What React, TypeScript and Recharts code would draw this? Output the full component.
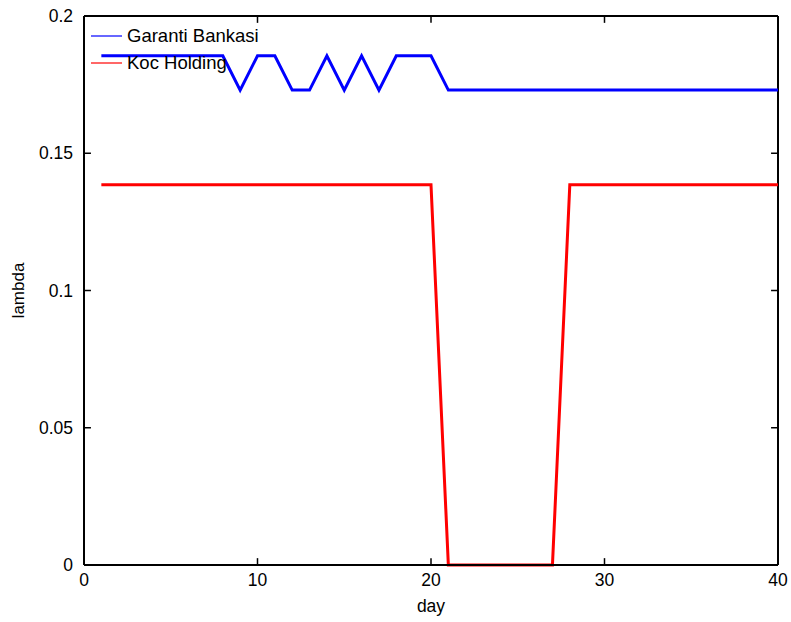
import { LineChart, Line, XAxis, YAxis, ReferenceLine } from "recharts";

const days = Array.from({ length: 40 }, (_, i) => i + 1);

const garantiBankasi = [
  0.1855, 0.1855, 0.1855, 0.1855, 0.1855, 0.1855, 0.1855, 0.1855, 0.173, 0.1855,
  0.1855, 0.173, 0.173, 0.1855, 0.173, 0.1855, 0.173, 0.1855, 0.1855, 0.1855,
  0.173, 0.173, 0.173, 0.173, 0.173, 0.173, 0.173, 0.173, 0.173, 0.173,
  0.173, 0.173, 0.173, 0.173, 0.173, 0.173, 0.173, 0.173, 0.173, 0.173,
];

const kocHolding = [
  0.1385, 0.1385, 0.1385, 0.1385, 0.1385, 0.1385, 0.1385, 0.1385, 0.1385, 0.1385,
  0.1385, 0.1385, 0.1385, 0.1385, 0.1385, 0.1385, 0.1385, 0.1385, 0.1385, 0.1385,
  0, 0, 0, 0, 0, 0, 0, 0.1385, 0.1385, 0.1385,
  0.1385, 0.1385, 0.1385, 0.1385, 0.1385, 0.1385, 0.1385, 0.1385, 0.1385, 0.1385,
];

const xTicks = [0, 10, 20, 30, 40];
const yTicks = [0, 0.05, 0.1, 0.15, 0.2];
const xMin = 0, xMax = 40, yMin = 0, yMax = 0.2;

const data = days.map((d, i) => ({ day: d, garanti: garantiBankasi[i], koc: kocHolding[i] }));

const font = "'Liberation Sans', Arial, sans-serif";
const tickStyle = { fill: "#000", fontSize: 17.5, fontFamily: font };

// inward tick length, in data units (~7px)
const xTickLen = 0.0025;
const yTickLen = 0.4;

const legendItems = [
  { label: "Garanti Bankasi", color: "#0000ff" },
  { label: "Koc Holding", color: "#ff0000" },
];

export default function App() {
  return (
    <div style={{ position: "relative", width: 791, height: 622, background: "#fff" }}>
      <style>{"body{margin:0}"}</style>
      <LineChart width={791} height={622} data={data} margin={{ top: 16, right: 13, bottom: 10, left: 24 }}>
        <XAxis
          dataKey="day"
          type="number"
          domain={[xMin, xMax]}
          ticks={xTicks}
          height={47}
          stroke="#000"
          strokeWidth={2}
          tickSize={0}
          tickLine={false}
          tickMargin={9}
          tick={tickStyle}
          label={{ value: "day", position: "insideBottom", offset: 0, style: { ...tickStyle } }}
        />
        <YAxis
          domain={[yMin, yMax]}
          ticks={yTicks}
          width={60}
          stroke="#000"
          strokeWidth={2}
          tickSize={0}
          tickLine={false}
          tickMargin={11}
          tick={tickStyle}
          label={{ value: "lambda", angle: -90, position: "insideLeft", offset: 0, dx: -6, style: { ...tickStyle, fontSize: 17, textAnchor: "middle" } }}
        />
        <ReferenceLine y={yMax} stroke="#000" strokeWidth={2} />
        <ReferenceLine x={xMax} stroke="#000" strokeWidth={2} />
        {xTicks.map((t) => (
          <ReferenceLine key={"xb" + t} segment={[{ x: t, y: yMin }, { x: t, y: yMin + xTickLen }]} stroke="#000" strokeWidth={1.5} />
        ))}
        {xTicks.map((t) => (
          <ReferenceLine key={"xt" + t} segment={[{ x: t, y: yMax }, { x: t, y: yMax - xTickLen }]} stroke="#000" strokeWidth={1.5} />
        ))}
        {yTicks.map((t) => (
          <ReferenceLine key={"yl" + t} segment={[{ x: xMin, y: t }, { x: xMin + yTickLen, y: t }]} stroke="#000" strokeWidth={1.5} />
        ))}
        {yTicks.map((t) => (
          <ReferenceLine key={"yr" + t} segment={[{ x: xMax, y: t }, { x: xMax - yTickLen, y: t }]} stroke="#000" strokeWidth={1.5} />
        ))}
        <Line
          type="linear"
          dataKey="garanti"
          stroke="#0000ff"
          strokeWidth={3}
          dot={false}
          isAnimationActive={false}
        />
        <Line
          type="linear"
          dataKey="koc"
          stroke="#ff0000"
          strokeWidth={3}
          dot={false}
          isAnimationActive={false}
        />
      </LineChart>
      <div style={{ position: "absolute", left: 91, top: 22, fontFamily: font, fontSize: 18.5, color: "#000" }}>
        {legendItems.map((it) => (
          <div key={it.label} style={{ display: "flex", alignItems: "center", height: 27 }}>
            <svg width={31} height={4} style={{ marginRight: 5 }}>
              <line x1={0} y1={2} x2={31} y2={2} stroke={it.color} strokeWidth={1.2} />
            </svg>
            <span>{it.label}</span>
          </div>
        ))}
      </div>
    </div>
  );
}
